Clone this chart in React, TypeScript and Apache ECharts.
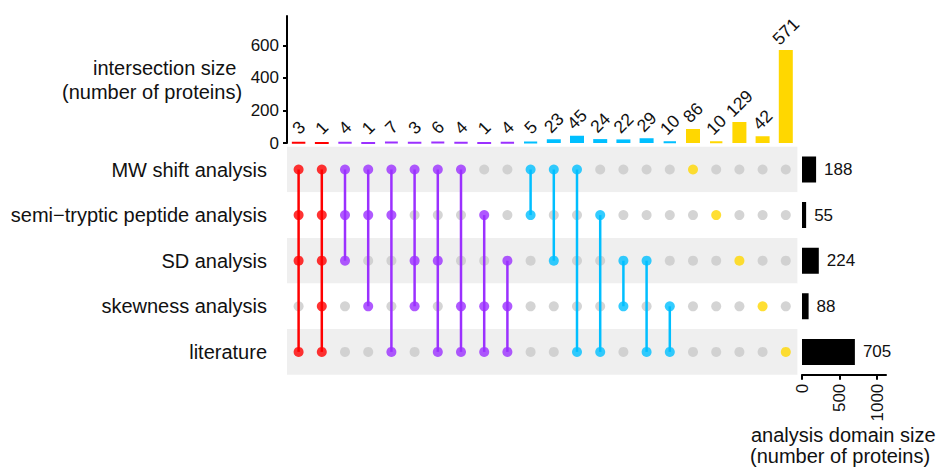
import React, { useEffect, useRef } from "react";
import * as echarts from "echarts";

const setNames = [
  "MW shift analysis",
  "semi−tryptic peptide analysis",
  "SD analysis",
  "skewness analysis",
  "literature",
];
const setSizes = [188, 55, 224, 88, 705];
const intersectionSizes = [3, 1, 4, 1, 7, 3, 6, 4, 1, 4, 5, 23, 45, 24, 22, 29, 10, 86, 10, 129, 42, 571];
const intersectionMembers = [
  [0, 1, 2, 4], [0, 1, 2, 3, 4],
  [0, 1, 2], [0, 1, 3], [0, 1, 4], [0, 2, 3], [0, 2, 4], [0, 3, 4], [1, 3, 4], [2, 3, 4],
  [0, 1], [0, 2], [0, 4], [1, 4], [2, 3], [2, 4], [3, 4],
  [0], [1], [2], [3], [4],
];
const intersectionTicks = [0, 200, 400, 600];
const domainTicks = [0, 500, 1000];

const RED = "#FF0000";
const PURPLE = "#9B30FF";
const BLUE = "#00BFFF";
const GOLD = "#FFD700";
const GREY = "#C9C9C9";
const TEXT = "#111111";
const FONT = "'Liberation Sans', Arial, Helvetica, sans-serif";

function degreeColor(n: number) {
  if (n >= 4) return RED;
  if (n === 3) return PURPLE;
  if (n === 2) return BLUE;
  return GOLD;
}

export default function App() {
  const ref = useRef<HTMLDivElement>(null);

  useEffect(() => {
    document.body.style.margin = "0";
    if (!ref.current) return;
    const chart = echarts.init(ref.current, undefined, { renderer: "svg" });

    const cats = intersectionSizes.map((_, i) => "I" + (i + 1));
    const colColors = intersectionMembers.map((m) => degreeColor(m.length));

    const barData = intersectionSizes.map((v, i) => ({
      value: v,
      itemStyle: { color: colColors[i], borderColor: colColors[i], borderWidth: 2 },
      label: { distance: 12 + 2.2 * String(v).length },
    }));

    const greyDots: number[][] = [];
    const colorDots: any[] = [];
    intersectionMembers.forEach((m, c) => {
      for (let r = 0; r < setNames.length; r++) {
        if (m.includes(r)) {
          colorDots.push({ value: [c, r], itemStyle: { color: colColors[c] } });
        } else {
          greyDots.push([c, r]);
        }
      }
    });
    const segs = intersectionMembers
      .map((m, c) => [c, Math.min(...m), Math.max(...m)])
      .filter((s) => s[1] !== s[2]);

    const gridLeft = 287;
    const gridWidth = 510.4;
    const mTop = 146.7;
    const mHeight = 228;

    const option: any = {
      animation: false,
      backgroundColor: "#ffffff",
      textStyle: { fontFamily: FONT },
      grid: [
        { left: gridLeft, top: 16, width: gridWidth, height: 127 },
        { left: gridLeft, top: mTop, width: gridWidth, height: mHeight },
        { left: 802, top: mTop, width: 84, height: mHeight },
      ],
      xAxis: [
        { gridIndex: 0, type: "category", data: cats, show: false },
        { gridIndex: 1, type: "category", data: cats, show: false },
        {
          gridIndex: 2,
          type: "value",
          min: 0,
          max: 1120,
          axisLine: { show: true, lineStyle: { color: "#000", width: 2 } },
          axisTick: { show: true, length: 5, lineStyle: { color: "#000", width: 2 }, customValues: domainTicks },
          axisLabel: {
            customValues: domainTicks,
            formatter: (v: number) => String(v),
            rotate: 90,
            margin: 9,
            fontSize: 17,
            color: TEXT,
            fontFamily: FONT,
          },
          splitLine: { show: false },
        },
      ],
      yAxis: [
        {
          gridIndex: 0,
          type: "value",
          min: 0,
          max: 780,
          axisLine: { show: true, lineStyle: { color: "#000", width: 2 } },
          axisTick: { show: true, length: 4, lineStyle: { color: "#000", width: 2 }, customValues: intersectionTicks },
          axisLabel: {
            customValues: intersectionTicks,
            formatter: (v: number) => String(v),
            fontSize: 17,
            color: TEXT,
            margin: 8,
            fontFamily: FONT,
          },
          splitLine: { show: false },
        },
        {
          gridIndex: 1,
          type: "category",
          data: setNames,
          inverse: true,
          axisLine: { show: false },
          axisTick: { show: false },
          axisLabel: { fontSize: 20, color: TEXT, margin: 20, fontFamily: FONT },
          splitArea: { show: true, areaStyle: { color: ["#EFEFEF", "#FFFFFF"] } },
          splitLine: { show: false },
        },
        {
          gridIndex: 2,
          type: "category",
          data: setNames,
          inverse: true,
          show: false,
        },
      ],
      series: [
        {
          type: "bar",
          xAxisIndex: 0,
          yAxisIndex: 0,
          data: barData,
          barWidth: 14,
          label: {
            show: true,
            position: "top",
            rotate: 45,
            align: "center",
            verticalAlign: "middle",
            fontSize: 17.5,
            color: TEXT,
            fontFamily: FONT,
          },
        },
        {
          type: "scatter",
          xAxisIndex: 1,
          yAxisIndex: 1,
          data: greyDots,
          symbolSize: 10,
          itemStyle: { color: GREY },
          z: 2,
        },
        {
          type: "custom",
          xAxisIndex: 1,
          yAxisIndex: 1,
          data: segs,
          encode: { x: 0, y: 1 },
          z: 3,
          renderItem: (params: any, api: any) => {
            const c = api.value(0);
            const p1 = api.coord([c, api.value(1)]);
            const p2 = api.coord([c, api.value(2)]);
            return {
              type: "line",
              shape: { x1: p1[0], y1: p1[1], x2: p2[0], y2: p2[1] },
              style: { stroke: colColors[c], lineWidth: 2.5 },
            };
          },
        },
        {
          type: "scatter",
          xAxisIndex: 1,
          yAxisIndex: 1,
          data: colorDots,
          symbolSize: 10,
          z: 4,
        },
        {
          type: "bar",
          xAxisIndex: 2,
          yAxisIndex: 2,
          data: setSizes,
          barWidth: 26,
          itemStyle: { color: "#000", borderColor: "#000", borderWidth: 2 },
          label: {
            show: true,
            position: "right",
            distance: 8,
            fontSize: 17,
            color: TEXT,
            fontFamily: FONT,
          },
        },
      ],
      graphic: [
        {
          type: "text",
          left: 93,
          top: 58,
          style: { text: "intersection size", fontSize: 20, fill: TEXT, font: "20px " + FONT },
        },
        {
          type: "text",
          left: 62,
          top: 82,
          style: { text: "(number of proteins)", fontSize: 20, fill: TEXT, font: "20px " + FONT },
        },
        {
          type: "text",
          left: 751,
          top: 425,
          style: { text: "analysis domain size", fontSize: 20, fill: TEXT, font: "20px " + FONT },
        },
        {
          type: "text",
          left: 750,
          top: 446,
          style: { text: "(number of proteins)", fontSize: 20, fill: TEXT, font: "20px " + FONT },
        },
      ],
    };

    chart.setOption(option);
    return () => chart.dispose();
  }, []);

  return <div ref={ref} style={{ width: 937, height: 467 }} />;
}
